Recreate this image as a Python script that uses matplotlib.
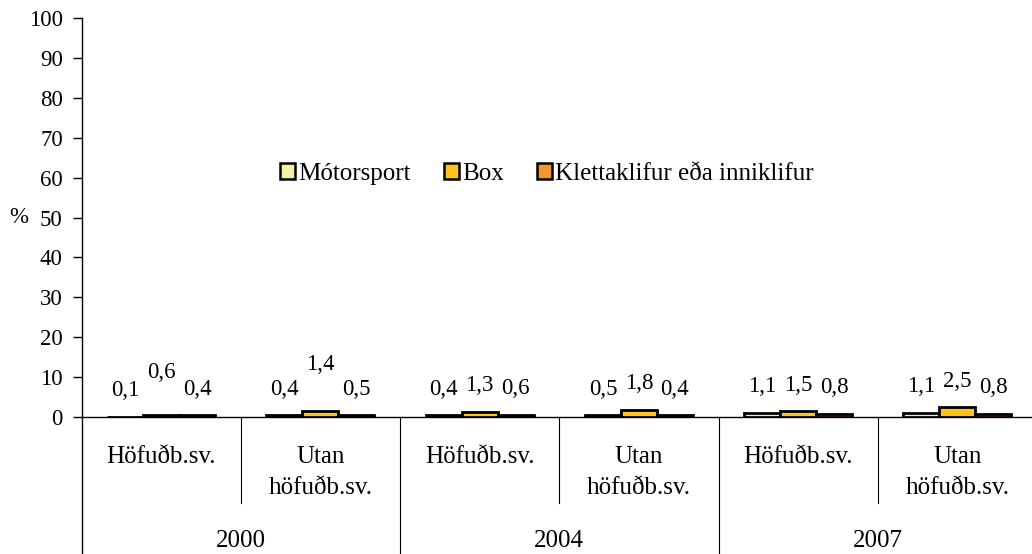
import matplotlib
matplotlib.use("Agg")
import matplotlib.pyplot as plt
import matplotlib.transforms as mtransforms
from matplotlib.patches import Patch
import numpy as np

plt.rcParams['font.family'] = ['Liberation Serif', 'DejaVu Serif']

years = ["2000", "2004", "2007"]
regions = [["Höfuðb.sv."], ["Utan", "höfuðb.sv."]]
series_names = ["Mótorsport", "Box", "Klettaklifur eða inniklifur"]
motorsport = [0.1, 0.4, 0.4, 0.5, 1.1, 1.1]
box = [0.6, 1.4, 1.3, 1.8, 1.5, 2.5]
klettaklifur = [0.4, 0.5, 0.6, 0.4, 0.8, 0.8]
value_labels = [
    ["0,1", "0,4", "0,4", "0,5", "1,1", "1,1"],
    ["0,6", "1,4", "1,3", "1,8", "1,5", "2,5"],
    ["0,4", "0,5", "0,6", "0,4", "0,8", "0,8"],
]
yticks = list(range(0, 101, 10))

colors = ["#F2F2A6", "#FFC21E", "#F5962F"]
# extra vertical nudge (pixels) for labels that Excel moved to avoid overlap
label_nudge = [
    [0, 0, 0, 0, 0, 0],
    [16, 21, 0, 0, 0, 0],
    [0, 0, 0, 0, 0, 0],
]

W, H = 1032, 554
fig = plt.figure(figsize=(W / 100, H / 100), dpi=100)
ax = fig.add_axes([81.5 / W, (H - 417) / H, 955.5 / W, 399 / H])

n = len(motorsport)
x = np.arange(n)
bw = 0.226
data = [motorsport, box, klettaklifur]
fs_small = 16.5
fs_big = 18
for i, (vals, col) in enumerate(zip(data, colors)):
    xs = x + (i - 1) * bw
    ax.bar(xs, vals, width=bw, color=col, edgecolor="black", linewidth=2.0, zorder=3)
    for j, (xx, v) in enumerate(zip(xs, vals)):
        ax.annotate(value_labels[i][j], (xx, v), xytext=(0, 26 + label_nudge[i][j]),
                    textcoords="offset pixels", ha="center", va="center",
                    fontsize=fs_small, zorder=5)

ax.set_xlim(-0.5, n - 0.5)
ax.set_ylim(0, 100)
ax.set_yticks(yticks)
ax.tick_params(axis="y", labelsize=fs_small, direction="out", length=6.5, width=1, pad=7)
ax.set_xticks([])
for s in ["top", "right"]:
    ax.spines[s].set_visible(False)
ax.spines["bottom"].set_linewidth(1)
ax.spines["left"].set_linewidth(1)
ax.spines["bottom"].set_zorder(2)

ax.text(-0.0654, 0.5, "%", transform=ax.transAxes, fontsize=fs_small, ha="center", va="center")

# hierarchical category axis
trans = mtransforms.blended_transform_factory(ax.transData, ax.transAxes)
def ay(py):
    return (417 - py) / 399.0

ax.plot([-0.5, -0.5], [0, ay(554)], transform=trans, color="black", lw=1, clip_on=False)
for k in range(1, n):
    bottom = ay(554) if k % 2 == 0 else ay(503)
    ax.plot([k - 0.5, k - 0.5], [0, bottom], transform=trans, color="black", lw=0.8, clip_on=False)
for j in range(n):
    for li, line in enumerate(regions[j % 2]):
        ax.text(j, ay(463 + 31 * li), line, transform=trans, ha="center", va="baseline",
                fontsize=fs_big)
for y_i, yr in enumerate(years):
    ax.text(2 * y_i + 0.5, ay(547), yr, transform=trans, ha="center", va="baseline", fontsize=fs_big)

handles = [Patch(facecolor=c, edgecolor="black", linewidth=1.8) for c in colors]
ax.legend(handles, series_names, loc="center", bbox_to_anchor=(0.487, 0.609), ncol=3,
          frameon=False, fontsize=fs_big, handlelength=0.6, handleheight=0.6,
          handletextpad=0.15, columnspacing=1.3)

fig.savefig("out.png", dpi=100)
